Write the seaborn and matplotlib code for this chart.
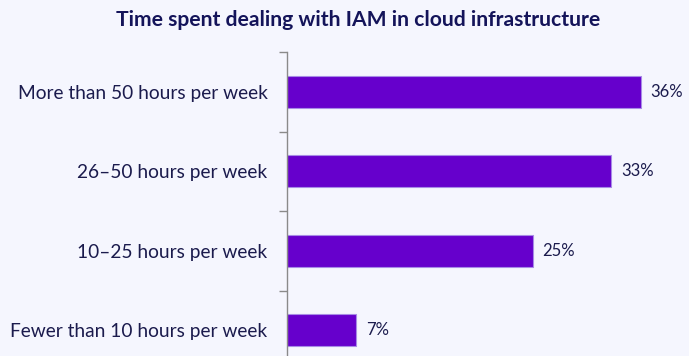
import matplotlib
matplotlib.use("Agg")
import matplotlib.pyplot as plt
import seaborn as sns
import pandas as pd

categories = ["More than 50 hours per week", "26\u201350 hours per week",
              "10\u201325 hours per week", "Fewer than 10 hours per week"]
values = [36, 33, 25, 7]
labels = ["36%", "33%", "25%", "7%"]

df = pd.DataFrame({"cat": categories, "pct": values})

sns.set_style("white")
plt.rcParams['font.family'] = ['Lato', 'DejaVu Sans']

bg = "#f5f6fe"
txt = "#1b1b4d"
fig = plt.figure(figsize=(6.89, 3.56), dpi=100, facecolor=bg)
ax = fig.add_axes([287/689, 1 - 370/356, (689-287)/689, (370-52)/356])
ax.set_facecolor(bg)

sns.barplot(data=df, x="pct", y="cat", orient="h", color="#6600cc",
            width=0.4, edgecolor="#a88be6", linewidth=0.8, ax=ax, saturation=1)

for i, (v, lab) in enumerate(zip(values, labels)):
    ax.text(v + 1.0, i, lab, va="center", ha="left", fontsize=12, color=txt)

ax.set_xlim(0, 40.9)
ax.set_ylim(3.5, -0.5)
ax.set_xlabel("")
ax.set_ylabel("")
ax.set_xticks([])
ax.set_yticks(range(len(categories)))
ax.set_yticklabels(categories, fontsize=13.8, color=txt)
ax.tick_params(axis="y", which="major", length=0, pad=14)
ax.set_yticks([-0.5, 0.5, 1.5, 2.5, 3.5], minor=True)
ax.tick_params(axis="y", which="minor", left=True, length=6, color="#8a8a8a", width=1)
for s in ["top", "right", "bottom"]:
    ax.spines[s].set_visible(False)
ax.spines["left"].set_color("#8a8a8a")
ax.spines["left"].set_linewidth(1)

fig.text(358/689, 1 - 20/356, "Time spent dealing with IAM in cloud infrastructure",
         ha="center", va="center", fontsize=15.2, fontweight="bold", color="#14145a")

fig.savefig("out.png", dpi=100, facecolor=bg)
